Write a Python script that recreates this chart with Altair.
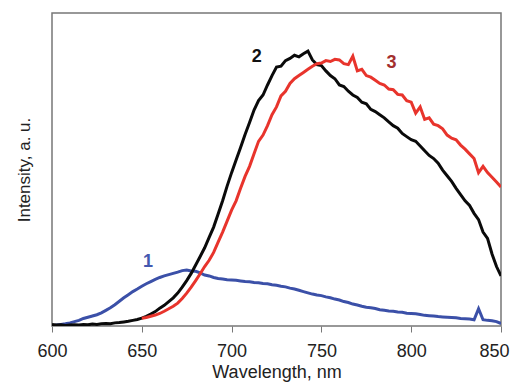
import altair as alt
import pandas as pd

wl_full = [600 + 2.5 * i for i in range(101)]
wl_red = [650 + 2.5 * i for i in range(81)]

blue = [0.0, .003, .005, .007, .01, .014, .018, .024, .028, .032, .036, .042, .05, .058, .068, .079,
        .09, .10, .11, .118, .127, .135, .142, .149, .155, .16, .164, .168, .172, .177, .179, .176,
        .175, .17, .163, .16, .155, .152, .15, .148, .147, .146, .144, .142, .141, .139, .138, .136,
        .135, .132, .13, .127, .125, .121, .118, .114, .11, .106, .102, .099, .097, .093, .09, .086,
        .083, .078, .075, .07, .067, .063, .06, .058, .056, .052, .05, .048, .047, .045, .044, .041,
        .04, .039, .037, .034, .033, .032, .03, .029, .028, .027, .026, .024, .023, .022, .02, .055,
        .02, .018, .017, .014, .008]

black = [.005, .003, .004, .002, .003, .004, .003, .005, .004, .006, .005, .007, .008, .007, .010,
         .011, .013, .015, .018, .021, .025, .031, .038, .046, .057, .066, .078, .090, .105, .124,
         .145, .168, .195, .222, .25, .283, .316, .358, .40, .447, .49, .53, .57, .612, .65, .69,
         .72, .738, .77, .80, .827, .83, .848, .855, .865, .86, .87, .878, .85, .835, .832, .815,
         .80, .79, .77, .765, .75, .738, .73, .715, .71, .692, .685, .675, .665, .652, .64, .632,
         .615, .605, .595, .59, .575, .56, .545, .535, .52, .498, .48, .462, .44, .42, .40, .385,
         .36, .34, .30, .28, .23, .19, .16]

red = [.025, .027, .031, .035, .04, .047, .055, .063, .073, .088, .105, .124, .145, .167, .19, .21,
       .235, .268, .30, .335, .37, .40, .44, .478, .51, .55, .59, .61, .64, .675, .70, .735, .75,
       .775, .79, .80, .81, .82, .83, .838, .84, .848, .845, .852, .85, .838, .835, .862, .815, .82,
       .80, .795, .785, .775, .77, .757, .755, .74, .738, .72, .715, .68, .70, .66, .665, .645, .64,
       .63, .61, .60, .595, .578, .565, .55, .535, .49, .51, .49, .475, .46, .444]

label_text = ["1", "2", "3"]
label_x = [653.5, 714, 789]
label_y = [0.205, 0.858, 0.84]
label_color = ["#4458b0", "#111111", "#a3302e"]

rows = []
for x, y in zip(wl_full, blue):
    rows.append({"wl": x, "v": y, "s": "1"})
for x, y in zip(wl_full, black):
    rows.append({"wl": x, "v": y, "s": "2"})
for x, y in zip(wl_red, red):
    rows.append({"wl": x, "v": y, "s": "3"})
df = pd.DataFrame(rows)

labels = pd.DataFrame({"t": label_text, "x": label_x, "y": label_y, "c": label_color})

xscale = alt.Scale(domain=[600, 850], nice=False)
yscale = alt.Scale(domain=[0, 1], nice=False)

lines = alt.Chart(df).mark_line(strokeWidth=3, clip=True).encode(
    x=alt.X("wl:Q", scale=xscale,
            axis=alt.Axis(title="Wavelength, nm", values=[600, 650, 700, 750, 800, 850],
                          grid=False, tickSize=6, tickColor="#777", domain=False,
                          labelFontSize=18, titleFontSize=18, labelPadding=10,
                          titlePadding=3, labelFont="Liberation Sans", titleFont="Liberation Sans",
                          labelColor="#222", titleColor="#222", titleFontWeight="normal",
                          labelFlush=False,
                          labelOffset=alt.ExprRef("datum.value == 850 ? -7 : 0"))),
    y=alt.Y("v:Q", scale=yscale,
            axis=alt.Axis(title="Intensity, a. u.", labels=False, ticks=False, grid=False,
                          domain=False, titleFontSize=17, titleFont="Liberation Sans",
                          titleColor="#222", titleFontWeight="normal", titlePadding=19)),
    color=alt.Color("s:N", scale=alt.Scale(domain=["1", "2", "3"],
                                           range=["#3b50a8", "#0a0a0a", "#e8342c"]),
                    legend=None),
    detail="s:N",
)

text = alt.Chart(labels).mark_text(fontSize=18, fontWeight="bold", font="Liberation Sans").encode(
    x=alt.X("x:Q", scale=xscale),
    y=alt.Y("y:Q", scale=yscale),
    text="t:N",
    color=alt.Color("c:N", scale=None),
)

chart = alt.layer(lines, text).properties(
    width=449, height=313,
    autosize=alt.AutoSizeParams(type="none"),
    padding={"left": 44, "top": 5, "right": 9, "bottom": 58},
    background="white",
).configure_view(stroke="#777", strokeWidth=1.5)

chart.save("out.html", embed_options={"renderer": "svg", "actions": False})
